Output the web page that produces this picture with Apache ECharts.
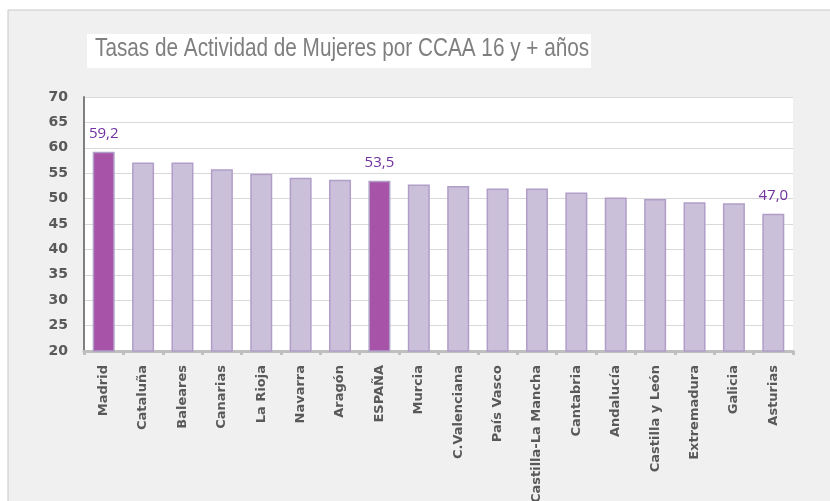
<!DOCTYPE html>
<html>
<head>
<meta charset="utf-8">
<script src="https://cdn.jsdelivr.net/npm/echarts@6/dist/echarts.min.js"></script>
<style>
  html, body { margin: 0; padding: 0; background: #fff; }
  #chart { width: 830px; height: 501px; }
</style>
</head>
<body>
<div id="chart"></div>
<script>
var regiones = ['Madrid', 'Cataluña', 'Baleares', 'Canarias', 'La Rioja', 'Navarra', 'Aragón', 'ESPAÑA',
  'Murcia', 'C.Valenciana', 'País Vasco', 'Castilla-La Mancha', 'Cantabria', 'Andalucía',
  'Castilla y León', 'Extremadura', 'Galicia', 'Asturias'];
var tasas = [59.2, 57.1, 57.1, 55.8, 54.9, 54.1, 53.7, 53.5, 52.8, 52.5, 52.0, 52.0, 51.2, 50.2, 49.9, 49.3, 49.1, 47.0];
var destacadas = ['Madrid', 'ESPAÑA'];
var conEtiqueta = ['Madrid', 'ESPAÑA', 'Asturias'];

var dom = document.getElementById('chart');
var myChart = echarts.init(dom);

var datos = tasas.map(function (v, i) {
  var item = {
    value: v,
    itemStyle: destacadas.indexOf(regiones[i]) >= 0
      ? { color: '#a653a8', borderColor: '#b09ec8', borderWidth: 1.5 }
      : { color: '#cbc0da', borderColor: '#b09ec8', borderWidth: 1.5 }
  };
  if (conEtiqueta.indexOf(regiones[i]) >= 0) {
    item.label = {
      show: true,
      position: 'top',
      distance: 11,
      color: '#7030a0',
      fontSize: 15,
      fontFamily: 'Open Sans',
      formatter: function (p) { return p.value.toFixed(1).replace('.', ','); }
    };
  }
  return item;
});

var option = {
  backgroundColor: '#ffffff',
  animation: false,
  graphic: [{
    type: 'rect',
    z: -10,
    shape: { x: 8, y: 10, width: 840, height: 520 },
    style: { fill: '#f0f0f0', stroke: '#c8c8c8', lineWidth: 1 }
  }, {
    type: 'rect',
    z: -5,
    shape: { x: 87, y: 34, width: 504, height: 34 },
    style: { fill: '#ffffff' }
  }, {
    type: 'text',
    z: 10,
    x: 95,
    y: 37,
    scaleX: 0.83,
    style: {
      text: 'Tasas de Actividad de Mujeres por CCAA 16 y + años',
      fill: '#7f7f7f',
      fontSize: 25,
      fontFamily: 'Liberation Sans'
    }
  }],
  grid: {
    left: 84, right: 37, top: 97, bottom: 150,
    outerBoundsMode: 'none',
    show: true, backgroundColor: '#ffffff', borderWidth: 0
  },
  xAxis: {
    type: 'category',
    data: regiones,
    axisLine: { lineStyle: { color: '#bfbfbf', width: 3 } },
    axisTick: { show: true, length: 4, lineStyle: { color: '#bfbfbf', width: 3 } },
    axisLabel: {
      rotate: 90,
      interval: 0,
      color: '#595959',
      fontWeight: 'bold',
      fontSize: 13,
      fontFamily: 'DejaVu Sans',
      margin: 14
    }
  },
  yAxis: {
    type: 'value',
    min: 20, max: 70, interval: 5,
    axisLine: { show: true, lineStyle: { color: '#808080', width: 2 } },
    axisTick: { show: false },
    splitLine: { lineStyle: { color: '#d9d9d9', width: 1 } },
    axisLabel: {
      color: '#595959',
      fontWeight: 'bold',
      fontSize: 14,
      fontFamily: 'DejaVu Sans',
      margin: 16
    }
  },
  series: [{
    type: 'bar',
    barWidth: 22,
    data: datos
  }]
};

myChart.setOption(option);
</script>
</body>
</html>
